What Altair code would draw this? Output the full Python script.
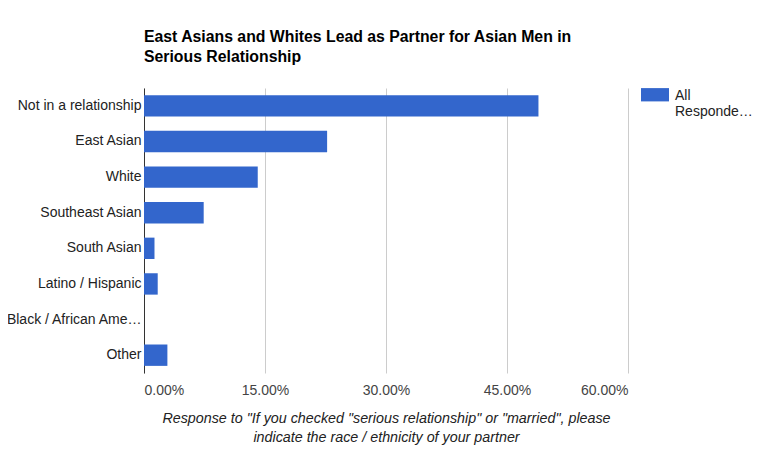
import altair as alt
import pandas as pd

categories = ["Not in a relationship", "East Asian", "White", "Southeast Asian",
              "South Asian", "Latino / Hispanic", "Black / African American", "Other"]
values = [0.489, 0.227, 0.141, 0.074, 0.013, 0.017, 0.0, 0.029]
series = ["All Respondents"] * len(categories)

title_lines = ["East Asians and Whites Lead as Partner for Asian Men in",
               "Serious Relationship"]
x_title_lines = ['Response to "If you checked "serious relationship" or "married", please',
                 'indicate the race / ethnicity of your partner']
x_ticks = [0, 0.15, 0.30, 0.45, 0.60]

df = pd.DataFrame({"category": categories, "value": values, "series": series})

FONT = "Liberation Sans"

chart = alt.Chart(df).mark_bar(color="#3366cc").encode(
    y=alt.Y("category:N", sort=categories,
            scale=alt.Scale(paddingInner=0.4, paddingOuter=0.2),
            axis=alt.Axis(title=None, ticks=False, domain=True, domainColor="#333333",
                          labelFont=FONT, labelFontSize=14, labelColor="#222222",
                          labelPadding=3, labelLimit=137, grid=False)),
    x=alt.X("value:Q", scale=alt.Scale(domain=[0, 0.6], nice=False),
            axis=alt.Axis(values=x_ticks, format=".2%", ticks=False, domain=False,
                          grid=True, gridColor="#cccccc", labelFont=FONT,
                          labelFontSize=14, labelColor="#444444", labelPadding=10,
                          title=x_title_lines, titleFont=FONT, titleFontSize=14.3,
                          titleFontStyle="italic", titleFontWeight="normal",
                          titleColor="#222222", titlePadding=14, titleLineHeight=19)),
    color=alt.Color("series:N", scale=alt.Scale(range=["#3366cc"]),
                    legend=alt.Legend(title=None, orient="none", legendX=497, legendY=-2,
                                      symbolType="M-1,-0.85H1V0.1H-1Z", symbolSize=784,
                                      symbolStrokeWidth=0, labelFont=FONT, labelFontSize=14,
                                      labelColor="#222222", labelOffset=6,
                                      labelBaseline="alphabetic",
                                      labelExpr="[split(datum.label, ' ')[0], slice(split(datum.label, ' ')[1], 0, 8) + '…']")),
).properties(
    width=484, height=285,
    autosize="none",
    padding={"left": 136, "top": 80, "right": 136, "bottom": 80},
    title=alt.TitleParams(text=title_lines, anchor="start", frame="group", font=FONT,
                          fontSize=15.8, fontWeight="bold", color="#000000",
                          lineHeight=20, offset=20),
).configure_view(stroke=None)

chart.save("out.html", embed_options={"renderer": "svg", "actions": False})
